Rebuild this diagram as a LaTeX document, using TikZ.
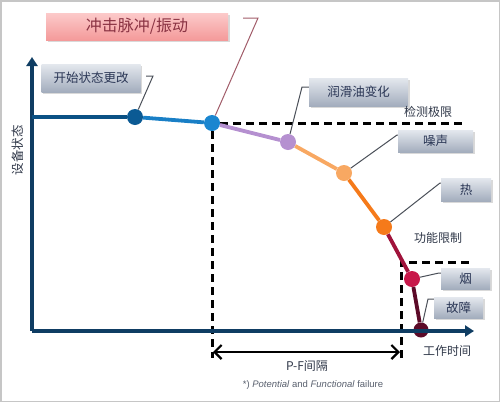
\documentclass[tikz,border=0pt]{standalone}
\usepackage{fontspec}
\setmainfont{Noto Sans CJK SC}
\newfontfamily\notefont{Liberation Sans}
\usetikzlibrary{arrows.meta,shadows}
\definecolor{axisblue}{HTML}{0F3D63}
\definecolor{startblue}{HTML}{0B5A94}
\definecolor{shockblue}{HTML}{1A86D0}
\definecolor{oilpurple}{HTML}{B590D0}
\definecolor{noiseorange}{HTML}{F8A862}
\definecolor{heatorange}{HTML}{F57A1A}
\definecolor{smokered}{HTML}{C8184A}
\definecolor{failred}{HTML}{5C0A28}
\definecolor{tagtop}{HTML}{E4E8EE}
\definecolor{tagbottom}{HTML}{A3ADBD}
\definecolor{tagtext}{HTML}{2A3655}
\definecolor{pinktop}{HTML}{FCCACA}
\definecolor{pinkbottom}{HTML}{F49A9A}
\definecolor{pinktext}{HTML}{8A3343}
\definecolor{calloutgray}{HTML}{4A4F58}
\definecolor{labeltext}{HTML}{2F3748}
\begin{document}
\begin{tikzpicture}[x=1pt, y=-1pt,
	dot/.style={circle, inner sep=0pt, minimum size=16pt},
	tag/.style={inner sep=0pt, text=tagtext, top color=tagtop, bottom color=tagbottom, drop shadow={opacity=0.3, shadow xshift=1.5pt, shadow yshift=-1.5pt}, font=\fontsize{12.5}{14}\selectfont},
	callout/.style={draw=calloutgray, line width=1pt},
	limit/.style={draw=black, line width=3pt, dash pattern=on 8pt off 5pt},
	seg/.style={line width=3.8pt},
	axis/.style={draw=axisblue, line width=4.2pt, -{Triangle[length=9pt,width=11pt]}},
	txt/.style={text=labeltext, font=\fontsize{12}{14}\selectfont}]
	    \useasboundingbox (0,0) rectangle (500,402);
	    \draw [gray!45, line width=1.5pt] (0.75,0.75) rectangle (499.25,401.25);
	    
	    \coordinate (org) at (32,331);
	    \coordinate (ytip) at (32,57);
	    \coordinate (xtip) at (474,331);
	    \coordinate (level) at (32,117);
	    
	    \node [dot, fill=startblue] (start) at (135,117) {};
	    \node [dot, fill=shockblue] (shock) at (212,123) {};
	    \node [dot, fill=oilpurple] (oil) at (288,142) {};
	    \node [dot, fill=noiseorange] (noise) at (344,173) {};
	    \node [dot, fill=heatorange] (heat) at (384,227) {};
	    \node [dot, fill=smokered] (smoke) at (412,279) {};
	    \node [dot, fill=failred, minimum size=15pt] (fail) at (421,330) {};
	    
	    \node [tag] (tstart) at (91,78) [minimum width=99pt, minimum height=28pt] {开始状态更改};
	    \node [tag, top color=pinktop, bottom color=pinkbottom, text=pinktext, font=\fontsize{16}{18}\selectfont] (tshock) at (137,26.5) [minimum width=182pt, minimum height=27pt] {冲击脉冲/振动};
	    \node [tag] (toil) at (358.5,92) [minimum width=99pt, minimum height=28pt] {润滑油变化};
	    \node [tag] (tnoise) at (435.5,141) [minimum width=75pt, minimum height=22pt] {噪声};
	    \node [tag] (theat) at (466,189.5) [minimum width=50pt, minimum height=23pt] {热};
	    \node [tag] (tsmoke) at (465.5,278.5) [minimum width=49pt, minimum height=21pt] {烟};
	    \node [tag] (tfail) at (458.5,307.5) [minimum width=49pt, minimum height=21pt] {故障};
	    
	    \coordinate (kstart) at (153,76);
	    \coordinate (kshock) at (258,18);
	    \coordinate (koil) at (302,87);
	    \coordinate (knoise) at (397,135);
	    \coordinate (kheat) at (440,183);
	    \coordinate (ksmoke) at (439,273);
	    \coordinate (kfail) at (428,299);
	    
	    \coordinate (detect) at (467,123);
	    \coordinate (pfbottom) at (212,358);
	    \coordinate (funtop) at (401,262);
	    \coordinate (funbottom) at (401,358);
	    \coordinate (funright) at (470,262);
	    \coordinate (pfleft) at (213,352);
	    \coordinate (pfright) at (400,352);
	    
		\draw [limit] (shock) -- (detect);
		\draw [limit] (shock) -- (pfbottom);
		\draw [limit] (funbottom) -- (funtop) -- (funright);
		
		\draw [axis] (org) -- (ytip);
		\draw [axis] (org) -- (xtip);
		
		\draw [seg, draw=startblue!90!black] (level) -- (start);
		\draw [seg, draw=shockblue!95!black] (start) -- (shock);
		\draw [seg, draw=oilpurple] (shock) -- (oil);
		\draw [seg, draw=noiseorange] (oil) -- (noise);
		\draw [seg, draw=heatorange] (noise) -- (heat);
		\draw [seg, draw=smokered!80!black] (heat) -- (smoke);
		\draw [seg, draw=failred] (smoke) -- (fail);
		
		\draw [callout] (start) -- (kstart) -- ++(-7,0);
		\draw [callout, draw=pinktext!80!white] (shock) -- (kshock) -- ++(-15,0);
		\draw [callout] (oil) -- (koil) -- (toil.west |- koil);
		\draw [callout] (noise) -- (knoise) -- (tnoise.west |- knoise);
		\draw [callout] (heat) -- (kheat) -- (theat.west |- kheat);
		\draw [callout] (smoke) -- (ksmoke) -- (tsmoke.west |- ksmoke);
		\draw [callout] (fail) -- (kfail) -- (tfail.west |- kfail);
		
		\draw [black, line width=2.2pt, {Straight Barb[length=7pt,width=14pt]}-{Straight Barb[length=7pt,width=14pt]}] (pfleft) -- (pfright);
		
		\node [txt] (detlabel) at (428,112) {检测极限};
		\node [txt] (funlabel) at (438,238) {功能限制};
		\node [txt] (timelabel) at (447,351) {工作时间};
		\node [txt] (pflabel) at (307,366) {P-F间隔};
		\node [txt, rotate=90, font=\fontsize{12.5}{14}\selectfont] (statelabel) at (18,150) {设备状态};
		\node [text=labeltext!80!white, font=\notefont\fontsize{9.5}{11}\selectfont] (note) at (313,385) {*) \textit{Potential} and \textit{Functional} failure};
		
	\end{tikzpicture}
\end{document}
